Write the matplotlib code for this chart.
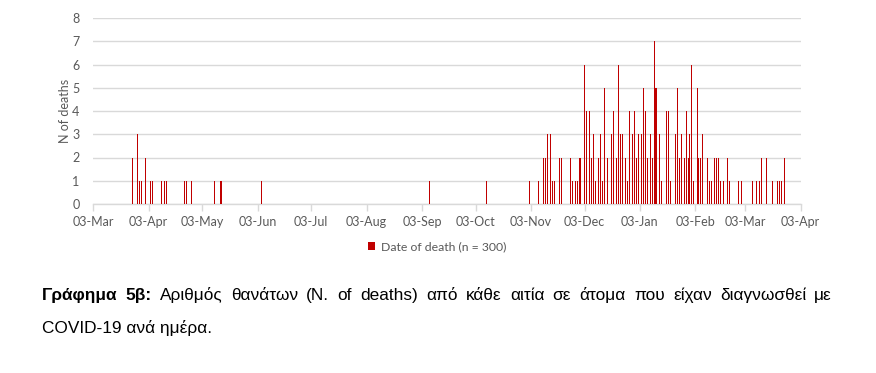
import numpy as np
import matplotlib
matplotlib.use("Agg")
import matplotlib.pyplot as plt
import matplotlib.dates as mdates

# days after 2020-03-03 on which deaths were recorded, and the count
start_date = np.datetime64("2020-03-03")
day_offsets = [
    22, 25, 26, 27, 29, 32, 33, 38, 40, 41, 51, 52, 55, 68, 71, 72, 94,
    188, 220,
    244, 249, 252, 253, 254, 256, 257, 258, 261, 262, 267, 268, 270, 271,
    272, 273, 275, 276, 278,
    279, 280, 281, 283, 284, 285, 286, 288, 290, 291, 293, 294, 295, 296,
    298, 299, 300, 302, 303, 304, 305, 307, 308, 309, 310, 312, 313, 314,
    315, 317, 318, 321, 322, 323, 326, 327, 328, 329, 331, 332, 333, 334,
    335, 336, 338, 339, 340, 341, 344, 345, 346, 348,
    349, 350, 351, 353, 355, 356, 361, 363, 369, 371, 373, 374, 377, 380,
    383, 384, 385, 387,
]
deaths = [
    2, 3, 1, 1, 2, 1, 1, 1, 1, 1, 1, 1, 1, 1, 1, 1, 1,
    1, 1,
    1, 1, 2, 2, 3, 3, 1, 1, 2, 2, 2, 1, 1, 1,
    2, 2, 6, 4, 4,
    2, 3, 1, 2, 3, 1, 5, 2, 3, 4, 2, 6, 3, 3,
    2, 1, 4, 3, 4, 2, 3, 3, 5, 4, 2, 3, 2, 7,
    5, 3, 1, 4, 4, 1, 3, 5, 2, 3, 2, 4, 2, 3,
    6, 1, 5, 2, 2, 3, 2, 1, 1, 2,
    2, 2, 1, 1, 2, 1, 1, 1, 1, 1, 1, 2, 2, 1,
    1, 1, 1, 2,
]
legend_label = "Date of death (n = 300)"
y_label = "N of deaths"
caption_bold = "Γράφημα 5β:"
caption_line1 = "Αριθμός θανάτων (N. of deaths) από κάθε αιτία σε άτομα που είχαν διαγνωσθεί με"
caption_line2 = "COVID-19 ανά ημέρα."

dates = start_date + np.array(day_offsets).astype("timedelta64[D]")
tick_dates = np.arange("2020-03", "2021-05", dtype="datetime64[M]").astype("datetime64[D]") + 2

W, H = 876, 373
fig = plt.figure(figsize=(W / 100, H / 100), dpi=100)
ax = fig.add_axes([93.3 / W, 1 - 204 / H, (800.7 - 93.3) / W, (204 - 18) / H])

grey_txt = "#595959"
grid_col = "#D9D9D9"
chart_font = "Lato"

ax.bar(dates, deaths, width=0.57, color="#C00000", linewidth=0, zorder=3,
       antialiased=False, label=legend_label)

ax.set_xlim(np.datetime64("2020-03-03"), np.datetime64("2021-04-03"))
ax.set_ylim(0, 8)
ax.set_yticks(range(0, 9))
ax.set_xticks(tick_dates)
ax.xaxis.set_major_formatter(mdates.DateFormatter("%d-%b"))

ax.grid(axis="y", color=grid_col, linewidth=1, zorder=0)
for s in ["top", "right", "left"]:
    ax.spines[s].set_visible(False)
ax.spines["bottom"].set_color(grid_col)
ax.spines["bottom"].set_linewidth(1)
ax.tick_params(axis="y", length=0, pad=10, labelsize=9, labelcolor=grey_txt)
ax.tick_params(axis="x", length=5, width=1, color=grid_col, pad=4,
               labelsize=9, labelcolor=grey_txt)
for lab in ax.get_xticklabels() + ax.get_yticklabels():
    lab.set_fontfamily(chart_font)

ax.set_ylabel(y_label, fontsize=9, color=grey_txt, family=chart_font, labelpad=1)

leg = fig.legend(loc="center", bbox_to_anchor=(437 / W, 1 - 247 / H), frameon=False,
                 prop={"family": chart_font, "size": 8.8}, handlelength=0.6,
                 handleheight=0.6, handletextpad=0.5, borderaxespad=0)
for t in leg.get_texts():
    t.set_color(grey_txt)

# caption, first line justified between x=42 and x=832
cap_font = {"family": "Liberation Sans", "size": 12.4, "color": "black"}
left_px, right_px = 42, 832
y1 = 1 - 300 / H
y2 = 1 - 333 / H
words = [(w, True) for w in caption_bold.split()] + [(w, False) for w in caption_line1.split()]
renderer = fig.canvas.get_renderer()
texts, widths = [], []
for w, bold in words:
    t = fig.text(0, y1, w, fontweight="bold" if bold else "normal", va="baseline", **cap_font)
    bb = t.get_window_extent(renderer=renderer)
    texts.append(t)
    widths.append(bb.width)
gap = (right_px - left_px - sum(widths)) / (len(words) - 1)
x = left_px
for t, wdt in zip(texts, widths):
    t.set_x(x / W)
    x += wdt + gap
fig.text(left_px / W, y2, caption_line2, va="baseline", **cap_font)

fig.savefig("out.png", dpi=100)
